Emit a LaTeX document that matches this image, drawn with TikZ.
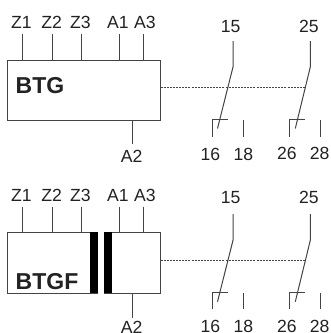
\documentclass[tikz,border=0pt]{standalone}
\usepackage{fontspec}
\setmainfont{Liberation Sans}
\definecolor{ink}{HTML}{222222}
\definecolor{wire}{HTML}{444444}
\tikzset{
  wirel/.style={draw=wire,line width=1pt},
  dashl/.style={draw=wire,line width=0.9pt,dash pattern=on 2pt off 1.1pt},
  lab/.style={anchor=base,inner sep=0pt,outer sep=0pt,text=ink,font=\fontsize{17.6}{19}\selectfont},
  title/.style={anchor=base west,inner sep=0pt,outer sep=0pt,text=ink,font=\fontsize{23}{25}\selectfont\bfseries},
  boxn/.style={draw=wire,line width=1pt,fill=white,inner sep=0pt,outer sep=0pt,anchor=north west},
  barn/.style={fill=black,inner sep=0pt,outer sep=0pt,anchor=north west,minimum width=7.4pt,minimum height=61pt}
}
\begin{document}
\begin{tikzpicture}[x=1pt,y=-1pt]
\clip (0,0) rectangle (331,333);
\useasboundingbox (0,0) rectangle (331,333);
\fill[white] (0,0) rectangle (331,333);
% ---------- upper unit ----------
\node[boxn,minimum width=153pt,minimum height=60.5pt] (b1) at (7.5,60) {};
\node[title] (t1) at (15.7,93.3) {BTG};
\node[lab] (lz1) at (21.5,28.3) {Z1};
\node[lab] (lz2) at (51.7,28.3) {Z2};
\node[lab] (lz3) at (80.3,28.3) {Z3};
\node[lab] (la1) at (118,28.3) {A1};
\node[lab] (la3) at (145,28.3) {A3};
\node[lab] (la2) at (131.7,162) {A2};
\coordinate (sz1) at (22,34);
\coordinate (sz2) at (52,34);
\coordinate (sz3) at (81,34);
\coordinate (sa1) at (119.5,34);
\coordinate (sa3) at (143.5,34);
\coordinate (sa2) at (132,144);
\draw[wirel] (sz1) -- (sz1 |- b1.north);
\draw[wirel] (sz2) -- (sz2 |- b1.north);
\draw[wirel] (sz3) -- (sz3 |- b1.north);
\draw[wirel] (sa1) -- (sa1 |- b1.north);
\draw[wirel] (sa3) -- (sa3 |- b1.north);
\draw[wirel] (sa2) -- (sa2 |- b1.south);
\coordinate (d1) at (305,87.5);
\draw[dashl] (d1 -| b1.east) -- (d1);
% upper contacts
\node[lab] (l15) at (230.7,32) {15};
\node[lab] (l25) at (309,32) {25};
\node[lab] (l16) at (210.3,160) {16};
\node[lab] (l18) at (243.3,160) {18};
\node[lab] (l26) at (287,159) {26};
\node[lab] (l28) at (319.7,159) {28};
\coordinate (c15a) at (233,41);
\coordinate (c15b) at (233,67);
\coordinate (c15c) at (217.5,128.5);
\coordinate (c25a) at (310.3,41);
\coordinate (c25b) at (310.3,67);
\coordinate (c25c) at (295.3,128.5);
\draw[wirel] (c15a) -- (c15b) -- (c15c);
\draw[wirel] (c25a) -- (c25b) -- (c25c);
\coordinate (k16a) at (212.5,136.5);
\coordinate (k16b) at (212.5,119.5);
\coordinate (k16c) at (227.5,119.5);
\coordinate (k26a) at (289.7,136.5);
\coordinate (k26b) at (289.7,119.5);
\coordinate (k26c) at (305,119.5);
\draw[wirel] (k16a) -- (k16b) -- (k16c);
\draw[wirel] (k26a) -- (k26b) -- (k26c);
\coordinate (k18a) at (243,120);
\coordinate (k18b) at (243,136.5);
\coordinate (k28a) at (320.3,120);
\coordinate (k28b) at (320.3,136.5);
\draw[wirel] (k18a) -- (k18b);
\draw[wirel] (k28a) -- (k28b);
% ---------- lower unit ----------
\node[boxn,minimum width=90.2pt,minimum height=61pt] (b2l) at (7.5,232.3) {};
\node[boxn,minimum width=56.2pt,minimum height=61pt] (b2r) at (104.3,232.3) {};
\node[barn] (bar1) at (90.3,232.3) {};
\node[barn] (bar2) at (104.3,232.3) {};
\node[title] (t2) at (15.7,289) {BTGF};
\node[lab] (mz1) at (21.5,201) {Z1};
\node[lab] (mz2) at (51.7,201) {Z2};
\node[lab] (mz3) at (80.3,201) {Z3};
\node[lab] (ma1) at (118,201) {A1};
\node[lab] (ma3) at (145,201) {A3};
\node[lab] (ma2) at (131.7,333.5) {A2};
\coordinate (tz1) at (22,206.7);
\coordinate (tz2) at (52,206.7);
\coordinate (tz3) at (81,206.7);
\coordinate (ta1) at (119.5,206.7);
\coordinate (ta3) at (143.5,206.7);
\coordinate (ta2) at (132,317.7);
\draw[wirel] (tz1) -- (tz1 |- b2l.north);
\draw[wirel] (tz2) -- (tz2 |- b2l.north);
\draw[wirel] (tz3) -- (tz3 |- b2l.north);
\draw[wirel] (ta1) -- (ta1 |- b2r.north);
\draw[wirel] (ta3) -- (ta3 |- b2r.north);
\draw[wirel] (ta2) -- (ta2 |- b2r.south);
\coordinate (d2) at (305,260.3);
\draw[dashl] (d2 -| b2r.east) -- (d2);
% lower contacts
\node[lab] (n15) at (230.7,203.3) {15};
\node[lab] (n25) at (309,203.3) {25};
\node[lab] (n16) at (210.3,332.4) {16};
\node[lab] (n18) at (243.3,332.4) {18};
\node[lab] (n26) at (287,332) {26};
\node[lab] (n28) at (319.7,332) {28};
\coordinate (e15a) at (233,214);
\coordinate (e15b) at (233,240.3);
\coordinate (e15c) at (217.5,301.7);
\coordinate (e25a) at (310.3,214);
\coordinate (e25b) at (310.3,240.3);
\coordinate (e25c) at (295.3,301.7);
\draw[wirel] (e15a) -- (e15b) -- (e15c);
\draw[wirel] (e25a) -- (e25b) -- (e25c);
\coordinate (f16a) at (212.5,309.3);
\coordinate (f16b) at (212.5,292.7);
\coordinate (f16c) at (227.5,292.7);
\coordinate (f26a) at (289.7,309.3);
\coordinate (f26b) at (289.7,292.7);
\coordinate (f26c) at (305,292.7);
\draw[wirel] (f16a) -- (f16b) -- (f16c);
\draw[wirel] (f26a) -- (f26b) -- (f26c);
\coordinate (f18a) at (243,293);
\coordinate (f18b) at (243,309.3);
\coordinate (f28a) at (320.3,293);
\coordinate (f28b) at (320.3,309.3);
\draw[wirel] (f18a) -- (f18b);
\draw[wirel] (f28a) -- (f28b);
\end{tikzpicture}
\end{document}
